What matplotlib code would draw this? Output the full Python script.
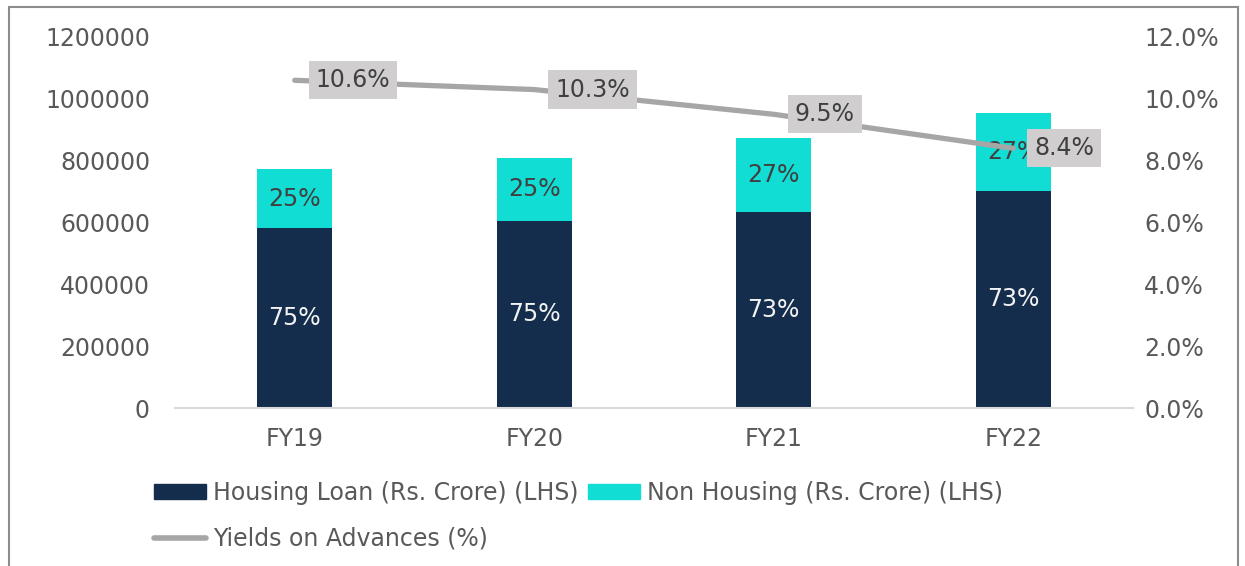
import matplotlib
matplotlib.use("Agg")
import matplotlib.pyplot as plt
from matplotlib.patches import Rectangle, Patch
from matplotlib.lines import Line2D
import numpy as np

years = ["FY19", "FY20", "FY21", "FY22"]
housing = [582000, 605000, 634000, 702000]
non_housing = [191000, 204000, 239000, 252000]
housing_pct = ["75%", "75%", "73%", "73%"]
non_housing_pct = ["25%", "25%", "27%", "27%"]
yields = [10.6, 10.3, 9.5, 8.4]

plt.rcParams['font.family'] = ['DejaVu Sans']
txt = '#595959'
navy = '#142D4C'
cyan = '#12DDD4'
gray_line = '#A6A6A6'
fs = 17

fig = plt.figure(figsize=(12.45, 5.66), dpi=100)
ax = fig.add_axes([175/1245, 1-408/566, (1133-175)/1245, (408-37)/566])
ax2 = ax.twinx()

x = np.arange(len(years))
w = 0.315
ax.bar(x, housing, w, color=navy, zorder=2)
ax.bar(x, non_housing, w, bottom=housing, color=cyan, zorder=2)

for i in range(len(years)):
    ax.text(x[i], housing[i] / 2, housing_pct[i], ha='center', va='center',
            color='#F2F2F2', fontsize=fs, zorder=3)
    ax.text(x[i], housing[i] + non_housing[i] / 2, non_housing_pct[i],
            ha='center', va='center', color='#404040', fontsize=fs, zorder=3)

ax.set_xlim(-0.5, 3.5)
ax.set_ylim(0, 1200000)
ax.set_yticks(np.arange(0, 1200001, 200000))
ax.set_yticklabels([str(v) for v in range(0, 1200001, 200000)])
ax.set_xticks(x)
ax.set_xticklabels(years)

ax2.plot(x, yields, color=gray_line, lw=3.8, solid_capstyle='round', zorder=4)
ax2.set_ylim(0, 12)
ax2.set_yticks(np.arange(0, 12.1, 2))
ax2.set_yticklabels([f"{v:.1f}%" for v in np.arange(0, 12.1, 2)])
for i in range(len(years)):
    ax2.annotate(f"{yields[i]}%", (x[i], yields[i]), xytext=(15, 0),
                 textcoords='offset points', ha='left', va='center',
                 fontsize=fs, color='#404040', zorder=5,
                 bbox=dict(boxstyle='square,pad=0.3', fc='#D0CECE', ec='none'))

for a in (ax, ax2):
    for s in a.spines.values():
        s.set_visible(False)
    a.tick_params(length=0, labelsize=fs, labelcolor=txt)
ax.spines['bottom'].set_visible(True)
ax.spines['bottom'].set_color('#D9D9D9')
ax.spines['bottom'].set_linewidth(1.5)
ax.tick_params(axis='y', pad=18)
ax.tick_params(axis='x', pad=14)
ax2.tick_params(axis='y', pad=8)
ax2.set_zorder(ax.get_zorder() + 1)
ax2.patch.set_visible(False)

handles = [Patch(color=navy, label="Housing Loan (Rs. Crore) (LHS)"),
           Line2D([], [], color=gray_line, lw=4, solid_capstyle='round',
                  label="Yields on Advances (%)"),
           Patch(color=cyan, label="Non Housing (Rs. Crore) (LHS)")]
fig.legend(handles=handles, ncol=2, loc='upper left',
           bbox_to_anchor=(133/1245, 1-460/566), frameon=False,
           fontsize=fs, labelcolor=txt, handlelength=2.2, handleheight=0.6,
           handletextpad=0.3, columnspacing=0.4, labelspacing=0.9)

fig.patches.append(Rectangle((9/1245, -0.05), (1238-9)/1245, 1.05 - 7/566,
                             transform=fig.transFigure, fill=False,
                             ec='#8C8C8C', lw=1.5))

fig.savefig("out.png", dpi=100)
